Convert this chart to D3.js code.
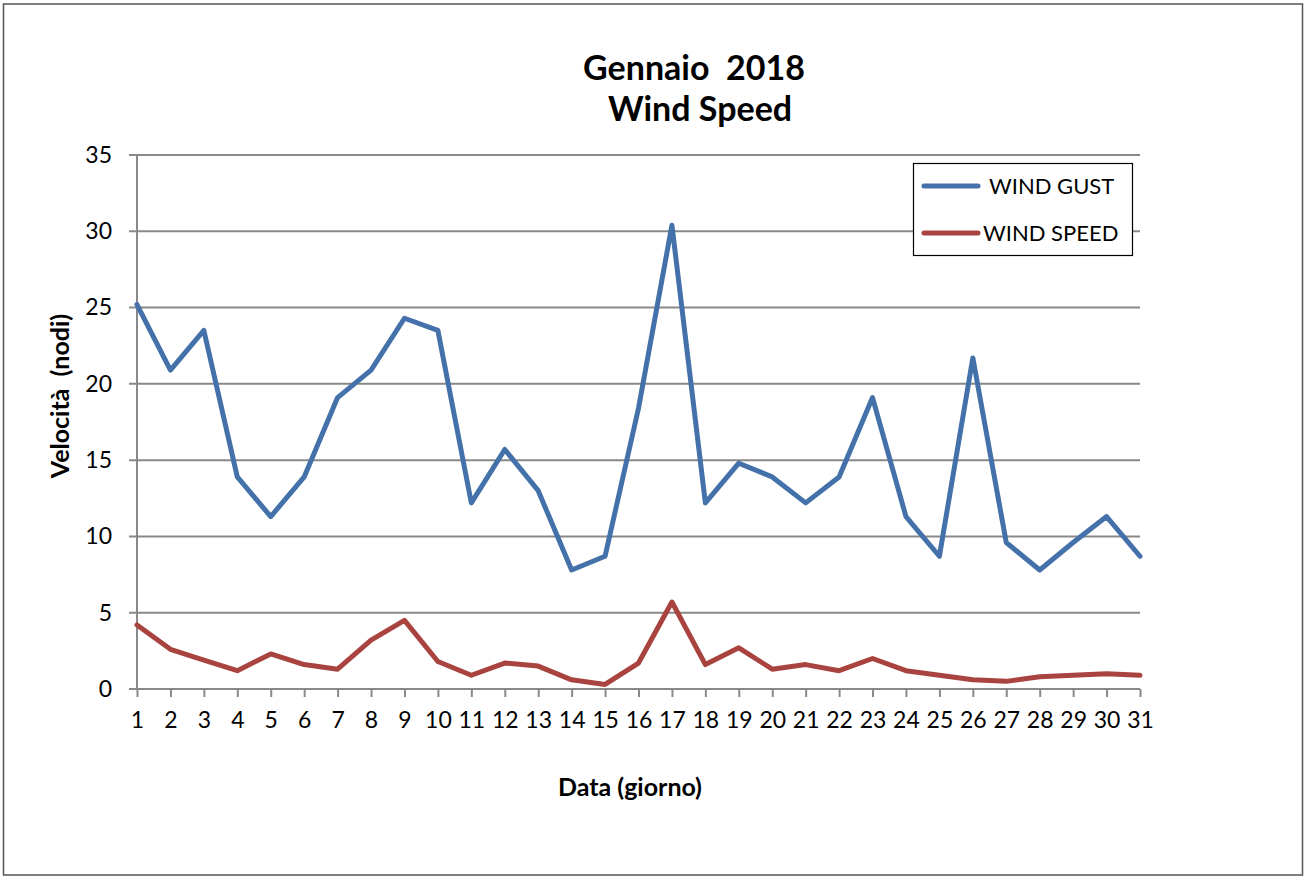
<!DOCTYPE html>
<html><head><meta charset="utf-8">
<script src="https://cdn.jsdelivr.net/npm/d3@7"></script>
<style>html,body{margin:0;padding:0;background:#fff;}svg{display:block;}</style>
</head><body>
<script>
const days = d3.range(1, 32);
const windGust = [25.2,20.9,23.5,13.9,11.3,13.9,19.1,20.9,24.3,23.5,12.2,15.7,13.0,7.8,8.7,18.4,30.4,12.2,14.8,13.9,12.2,13.9,19.1,11.3,8.7,21.7,9.6,7.8,9.6,11.3,8.7];
const windSpeed = [4.2,2.6,1.9,1.2,2.3,1.6,1.3,3.2,4.5,1.8,0.9,1.7,1.5,0.6,0.3,1.7,5.7,1.6,2.7,1.3,1.6,1.2,2.0,1.2,0.9,0.6,0.5,0.8,0.9,1.0,0.9];
const yTicks = [0,5,10,15,20,25,30,35];
const seriesNames = ["WIND GUST","WIND SPEED"];
const seriesColors = ["#4471A9","#A9433F"];
const titleLines = ["Gennaio  2018","Wind Speed"];

const W = 1306, H = 878;
const svg = d3.select("body").append("svg").attr("width", W).attr("height", H);
const font = "Lato, 'Open Sans', sans-serif";

svg.append("rect").attr("x", 3.5).attr("y", 4).attr("width", W - 7).attr("height", H - 7)
  .attr("fill", "#fff").attr("stroke", "#555").attr("stroke-width", 1.5);

const x = d3.scaleLinear().domain([1, 31]).range([137, 1140]);
const y = d3.scaleLinear().domain([0, 35]).range([689, 155]);

// gridlines
svg.append("g").selectAll("line").data(yTicks).join("line")
  .attr("x1", 129).attr("x2", 1140)
  .attr("y1", d => y(d)).attr("y2", d => y(d))
  .attr("stroke", "#898989").attr("stroke-width", 2);

// y axis line
svg.append("line").attr("x1", 137).attr("x2", 137).attr("y1", y(35)).attr("y2", y(0))
  .attr("stroke", "#898989").attr("stroke-width", 2);

// x ticks
const xAxis = d3.axisBottom(x).tickValues(days).tickSize(8).tickPadding(15).tickFormat(d3.format("d"));
const gx = svg.append("g").attr("transform", `translate(0,${y(0)})`).call(xAxis);
gx.select(".domain").remove();
gx.selectAll(".tick line").attr("stroke", "#898989").attr("stroke-width", 2);
gx.selectAll(".tick text").attr("font-family", font).attr("font-size", 23).attr("fill", "#000");

// y labels
const yAxis = d3.axisLeft(y).tickValues(yTicks).tickSize(0).tickPadding(0);
const gy = svg.append("g").attr("transform", `translate(112,0)`).call(yAxis);
gy.select(".domain").remove();
gy.selectAll(".tick text").attr("font-family", font).attr("font-size", 23).attr("fill", "#000").attr("text-anchor","end");

// lines
const line = d3.line().x((d, i) => x(days[i])).y(d => y(d));
[windGust, windSpeed].forEach((s, k) => {
  svg.append("path").datum(s).attr("d", line).attr("fill", "none")
    .attr("stroke", seriesColors[k]).attr("stroke-width", 5)
    .attr("stroke-linejoin", "round").attr("stroke-linecap", "round");
});

// title
svg.append("text").attr("x", 694).attr("y", 80).attr("text-anchor", "middle")
  .attr("font-family", font).attr("font-weight", "bold").attr("font-size", 34).style("white-space","pre").text(titleLines[0]);
svg.append("text").attr("x", 700).attr("y", 121).attr("text-anchor", "middle")
  .attr("font-family", font).attr("font-weight", "bold").attr("font-size", 34).text(titleLines[1]);

// axis titles
svg.append("text").attr("transform", "translate(69,396) rotate(-90)").attr("text-anchor", "middle")
  .attr("font-family", font).attr("font-weight", "bold").attr("font-size", 25).style("white-space","pre").text("Velocità  (nodi)");
svg.append("text").attr("x", 630).attr("y", 796).attr("text-anchor", "middle")
  .attr("font-family", font).attr("font-weight", "bold").attr("font-size", 25).text("Data (giorno)");

// legend
const lg = svg.append("g");
lg.append("rect").attr("x", 913.5).attr("y", 163.5).attr("width", 219).attr("height", 92)
  .attr("fill", "#fff").attr("stroke", "#000").attr("stroke-width", 1.2);
const legY = [186, 233], legLineX = [[924, 978],[924, 978]], legTextX = [989, 983];
seriesNames.forEach((n, k) => {
  lg.append("line").attr("x1", legLineX[k][0]).attr("x2", legLineX[k][1]).attr("y1", legY[k]).attr("y2", legY[k])
    .attr("stroke", seriesColors[k]).attr("stroke-width", 5).attr("stroke-linecap", "round");
  lg.append("text").attr("x", legTextX[k]).attr("y", legY[k] + 8).attr("font-family", font)
    .attr("font-size", 22).text(n);
});
</script>
</body></html>
